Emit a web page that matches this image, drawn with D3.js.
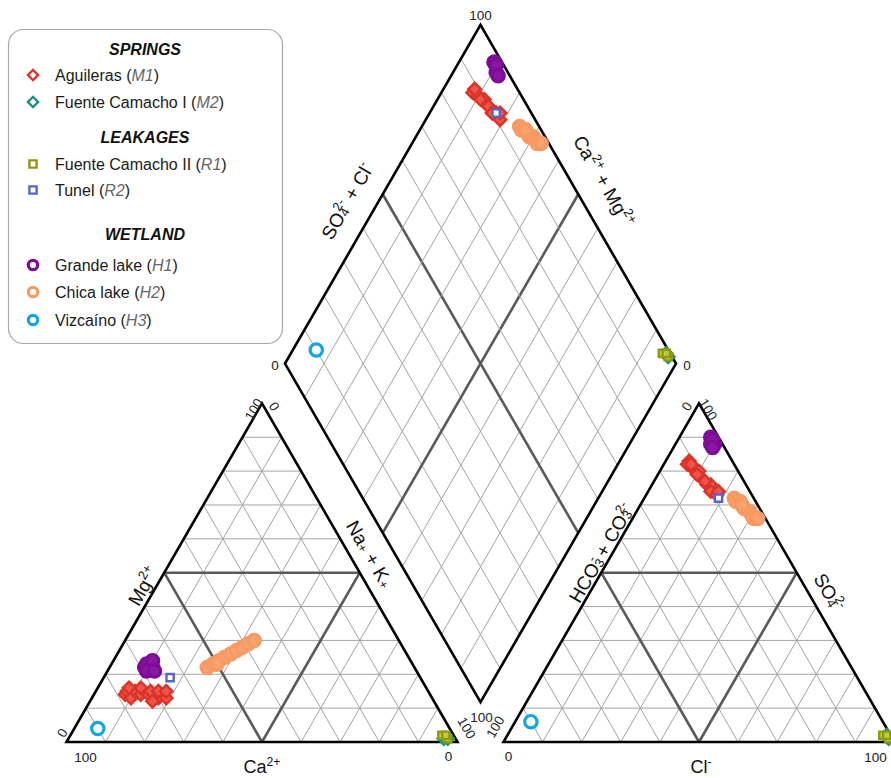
<!DOCTYPE html>
<html>
<head>
<meta charset="utf-8">
<script src="https://cdn.jsdelivr.net/npm/d3@7"></script>
<style>
  html, body { margin: 0; padding: 0; background: #fff; }
  svg { display: block; font-family: "Liberation Sans", Arial, sans-serif; }
</style>
</head>
<body>
<svg id="piper" width="891" height="778"></svg>
<script>
// Sample compositions, % meq/L: [Ca, Mg, Na+K, HCO3+CO3, SO4, Cl]
const aguileras = [
  [78, 14, 8, 11, 83, 6], [77, 15, 8, 12, 82, 6], [77, 13, 10, 11, 81, 8],
  [75, 15, 10, 11, 80, 9], [74, 14, 12, 10, 80, 10], [73, 16, 11, 11, 79, 10],
  [72, 14, 14, 10, 77, 13], [71, 15, 14, 10, 76, 14], [70, 13, 17, 9, 76, 15],
  [69, 15, 16, 10, 74, 16], [68, 13, 19, 9, 73, 18], [67, 15, 18, 8, 74, 18],
  [76, 16, 8, 11, 82, 7], [72, 12, 16, 10, 77, 13]
];
const fuenteCamachoI = [[2, 1, 97, 1, 1, 98], [3, 1, 96, 1, 2, 97]];
const fuenteCamachoII = [[2, 1, 97, 1, 1, 98], [3, 2, 95, 2, 2, 96], [2, 2, 96, 1, 2, 97]];
const tunel = [[64, 19, 17, 9, 72, 19]];
const grandeLake = [
  [69, 22, 9, 2, 89, 9], [68, 23, 9, 2, 90, 8], [67, 22, 11, 3, 88, 9],
  [66, 24, 10, 2, 88, 10], [69, 21, 10, 2, 89, 9], [67, 21, 12, 3, 87, 10]
];
const chicaLake = [
  [53, 22, 25, 5, 72, 23], [51, 23, 26, 5, 71, 24], [49, 24, 27, 4, 71, 25],
  [47, 25, 28, 4, 70, 26], [45, 26, 29, 4, 69, 27], [43, 27, 30, 3, 68, 29],
  [41, 28, 31, 3, 67, 30], [39, 29, 32, 3, 66, 31], [37, 30, 33, 2, 66, 32],
  [50, 23, 27, 4, 70, 26]
];
const vizcaino = [[90, 4, 6, 90, 6, 4]];

const legendGroups = ["SPRINGS", "LEAKAGES", "WETLAND"];
const siteNames = ["Aguileras", "Fuente Camacho I", "Fuente Camacho II", "Tunel", "Grande lake", "Chica lake", "Vizcaíno"];
const siteCodes = ["M1", "M2", "R1", "R2", "H1", "H2", "H3"];
const siteData = [aguileras, fuenteCamachoI, fuenteCamachoII, tunel, grandeLake, chicaLake, vizcaino];
const percentTicks = [0, 10, 20, 30, 40, 50, 60, 70, 80, 90, 100];

// ---- styles ----
const siteStyle = [
  { shape: "diamond", stroke: "#dc3329", fill: "#ee5449", lfill: "#fff" },
  { shape: "diamond", stroke: "#17937a", fill: "#2aa88c", lfill: "#fff" },
  { shape: "square", stroke: "#8e9a12", fill: "#c2cc3a", lfill: "#fff" },
  { shape: "square", stroke: "#5465cc", fill: "#fff", lfill: "#fff" },
  { shape: "circle", stroke: "#7d0c97", fill: "#8a16a3", lfill: "#fff" },
  { shape: "circle", stroke: "#f79a63", fill: "#f8a26e", lfill: "#fff" },
  { shape: "circle", stroke: "#17a5de", fill: "#fff", lfill: "#fff" }
];

const svg = d3.select("#piper");
const SIDE = 391;
const H = SIDE * Math.sqrt(3) / 2;
const BASE = 742;
const GAP = 46;
const leftX0 = 66.5;
const rightX0 = leftX0 + SIDE + GAP;
const diaB = { x: leftX0 + SIDE + GAP / 2, y: BASE - (GAP / 2) * Math.sqrt(3) };

// percent -> length along a triangle side
const len = d3.scaleLinear().domain([0, 100]).range([0, SIDE]);

// triangle corners
const cat = { A: [leftX0, BASE], B: [leftX0 + SIDE, BASE], C: [leftX0 + SIDE / 2, BASE - H] };   // Ca, Na+K, Mg
const ani = { A: [rightX0, BASE], B: [rightX0 + SIDE, BASE], C: [rightX0 + SIDE / 2, BASE - H] }; // HCO3, Cl, SO4

function triPt(T, a, b, c) {
  const t = a + b + c;
  return [(a * T.A[0] + b * T.B[0] + c * T.C[0]) / t, (a * T.A[1] + b * T.B[1] + c * T.C[1]) / t];
}
const u1 = [-0.5, -Math.sqrt(3) / 2], u2 = [0.5, -Math.sqrt(3) / 2];
function diaPt(alpha, beta) { // alpha = Ca+Mg %, beta = SO4+Cl %
  const la = len(alpha), lb = len(beta);
  return [diaB.x + la * u1[0] + lb * u2[0], diaB.y + la * u1[1] + lb * u2[1]];
}

const gGrid = svg.append("g");
const line = d3.line();

function gridLine(p, q, k) {
  const major = k === 50;
  gGrid.append("path").attr("d", line([p, q]))
    .attr("stroke", major ? "#5a5a5a" : "#a3a3a3")
    .attr("stroke-width", major ? 2.6 : 1)
    .attr("fill", "none");
}

// triangle grids
[cat, ani].forEach(T => {
  percentTicks.slice(1, -1).forEach(k => {
    gridLine(triPt(T, k, 100 - k, 0), triPt(T, k, 0, 100 - k), k);
    gridLine(triPt(T, 100 - k, k, 0), triPt(T, 0, k, 100 - k), k);
    gridLine(triPt(T, 100 - k, 0, k), triPt(T, 0, 100 - k, k), k);
  });
});
// diamond grid
percentTicks.slice(1, -1).forEach(k => {
  gridLine(diaPt(k, 0), diaPt(k, 100), k);
  gridLine(diaPt(0, k), diaPt(100, k), k);
});

// outlines
const gOut = svg.append("g").attr("fill", "none").attr("stroke", "#000").attr("stroke-width", 2.6).attr("stroke-linejoin", "miter");
[cat, ani].forEach(T => gOut.append("path").attr("d", line([T.A, T.B, T.C]) + "Z"));
gOut.append("path").attr("d", line([diaPt(0, 0), diaPt(100, 0), diaPt(100, 100), diaPt(0, 100)]) + "Z");

// ---- rich text helper (super/subscripts) ----
function rich(sel, parts, size) {
  const t = sel.append("text").attr("font-size", size).attr("fill", "#111");
  parts.forEach(p => {
    const ts = t.append("tspan").text(p.t);
    if (p.sup) ts.attr("baseline-shift", "40%").attr("font-size", size * 0.68);
    if (p.sub) ts.attr("baseline-shift", "-25%").attr("font-size", size * 0.68);
    if (p.dx) ts.attr("dx", p.dx);
  });
  return t;
}
function title(x, y, ang, parts, size = 19) {
  const g = svg.append("g").attr("transform", `translate(${x},${y}) rotate(${ang})`);
  rich(g, parts, size).attr("text-anchor", "middle").attr("dominant-baseline", "central");
}

title(262, 767, 0, [{ t: "Ca" }, { t: "2+", sup: true }], 18);
title(701, 767, 0, [{ t: "Cl" }, { t: "-", sup: true }], 18);
title(143, 586, -60, [{ t: "Mg" }, { t: "2+", sup: true }]);
title(370, 554, 60, [{ t: "Na" }, { t: "+", sub: true }, { t: " + K" }, { t: "+", sub: true }]);
title(601, 553, -60, [{ t: "HCO" }, { t: "3", sub: true }, { t: "-", sup: true, dx: -6 }, { t: " + CO" }, { t: "3", sub: true }, { t: "2-", sup: true, dx: -6 }]);
title(829, 592, 60, [{ t: "SO" }, { t: "4", sub: true }, { t: "2-", sup: true, dx: -6 }]);
title(347, 201, -60, [{ t: "SO" }, { t: "4", sub: true }, { t: "2-", sup: true, dx: -6 }, { t: " + Cl" }, { t: "-", sup: true }]);
title(604, 181, 60, [{ t: "Ca" }, { t: "2+", sup: true }, { t: " + Mg" }, { t: "2+", sup: true }]);

// ---- tick labels at the corners ----
function tick(x, y, ang, txt) {
  svg.append("text").attr("transform", `translate(${x},${y}) rotate(${ang})`)
    .attr("text-anchor", "middle").attr("dominant-baseline", "central")
    .attr("font-size", 13.5).attr("fill", "#222").text(txt);
}
const dTop = diaPt(100, 100), dLeft = diaPt(100, 0), dRight = diaPt(0, 100);
tick(dTop[0], dTop[1] - 9, 0, percentTicks[10]);
tick(dLeft[0] - 10, dLeft[1] + 2, 0, percentTicks[0]);
tick(dRight[0] + 11, dRight[1] + 2, 0, percentTicks[0]);
tick(diaB.x + 1, diaB.y + 15, 0, percentTicks[10]);
// cation triangle
tick(cat.C[0] - 8, cat.C[1] + 6, -60, percentTicks[10]);
tick(cat.C[0] + 12, cat.C[1] + 3, 60, percentTicks[0]);
tick(cat.A[0] - 4, cat.A[1] - 9, -60, percentTicks[0]);
tick(cat.A[0] + 19, cat.A[1] + 15, 0, percentTicks[10]);
tick(cat.B[0] + 9, cat.B[1] - 14, 60, percentTicks[10]);
tick(cat.B[0] - 9, cat.B[1] + 14, 0, percentTicks[0]);
// anion triangle
tick(ani.C[0] - 12, ani.C[1] + 3, -60, percentTicks[0]);
tick(ani.C[0] + 9, ani.C[1] + 6, 60, percentTicks[10]);
tick(ani.A[0] - 8, ani.A[1] - 15, -60, percentTicks[10]);
tick(ani.A[0] + 5, ani.A[1] + 14, 0, percentTicks[0]);
tick(ani.B[0] - 19, ani.B[1] + 15, 0, percentTicks[10]);

// ---- markers ----
const sym = {
  diamond: d3.symbol().type(d3.symbolSquare).size(78),
  square: d3.symbol().type(d3.symbolSquare).size(52),
  circle: d3.symbol().type(d3.symbolCircle).size(120)
};
function marker(g, st, x, y, fill) {
  const p = g.append("path").attr("d", sym[st.shape]())
    .attr("stroke", st.stroke).attr("fill", fill)
    .attr("stroke-width", st.shape === "circle" ? 3.2 : 2.4);
  p.attr("transform", `translate(${x},${y})` + (st.shape === "diamond" ? " rotate(45)" : ""));
  return p;
}

const gPts = svg.append("g");
siteData.forEach((rows, i) => {
  const st = siteStyle[i];
  rows.forEach(r => {
    const [ca, mg, na, hco3, so4, cl] = r;
    const pc = triPt(cat, ca, na, mg);
    const pa = triPt(ani, hco3, cl, so4);
    const pd = diaPt(ca + mg, so4 + cl);
    [pc, pa, pd].forEach(p => marker(gPts, st, p[0], p[1], st.fill));
  });
});

// ---- legend ----
const lg = svg.append("g");
lg.append("rect").attr("x", 8.5).attr("y", 29.5).attr("width", 274).attr("height", 314)
  .attr("rx", 15).attr("fill", "#fff").attr("stroke", "#a8a8a8").attr("stroke-width", 1.2);
const headY = [49, 137, 234];
const rowY = [75, 102, 164, 190, 265, 292, 320];
legendGroups.forEach((g, i) => {
  lg.append("text").attr("x", 145).attr("y", headY[i]).attr("text-anchor", "middle")
    .attr("dominant-baseline", "central").attr("font-size", 16).attr("font-weight", "bold")
    .attr("font-style", "italic").attr("fill", "#111").text(g);
});
siteNames.forEach((n, i) => {
  const st = siteStyle[i];
  const y = rowY[i];
  const m = marker(lg, st, 33, y, st.lfill);
  if (st.shape === "circle") m.attr("d", d3.symbol().type(d3.symbolCircle).size(70)());
  if (st.shape === "diamond") m.attr("d", d3.symbol().type(d3.symbolSquare).size(52)());
  const t = lg.append("text").attr("x", 55).attr("y", y).attr("dominant-baseline", "central")
    .attr("font-size", 16).attr("fill", "#1a1a1a");
  t.append("tspan").text(n + " (");
  t.append("tspan").attr("font-style", "italic").attr("fill", "#666").text(siteCodes[i]);
  t.append("tspan").text(")");
});
</script>
</body>
</html>
